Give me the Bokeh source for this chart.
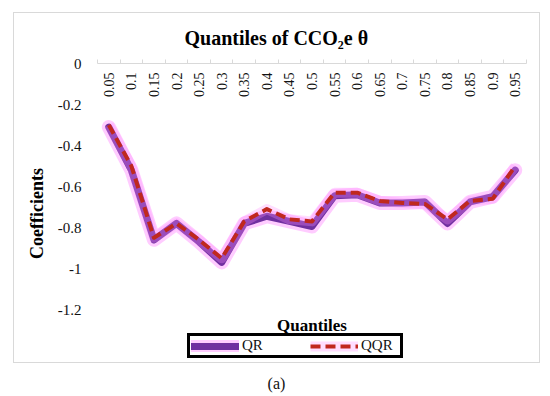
from math import pi
from bokeh.plotting import figure
from bokeh.models import (LinearAxis, FixedTicker, Legend, LegendItem, Range1d,
                          Div, ColumnDataSource, Label, CustomJSTickFormatter)
from bokeh.layouts import column
from bokeh.embed import file_html
from bokeh.resources import INLINE
from bokeh.core.properties import value

# ---- data ----
quantiles = ["0.05", "0.1", "0.15", "0.2", "0.25", "0.3", "0.35", "0.4", "0.45", "0.5",
             "0.55", "0.6", "0.65", "0.7", "0.75", "0.8", "0.85", "0.9", "0.95"]
qr = [-0.31, -0.52, -0.86, -0.78, -0.87, -0.97, -0.78, -0.745, -0.77, -0.795,
      -0.645, -0.64, -0.68, -0.68, -0.675, -0.78, -0.675, -0.65, -0.52]
qqr = [-0.30, -0.50, -0.85, -0.78, -0.86, -0.95, -0.77, -0.71, -0.76, -0.77,
       -0.63, -0.63, -0.67, -0.68, -0.685, -0.76, -0.67, -0.66, -0.50]
y_ticks = [0, -0.2, -0.4, -0.6, -0.8, -1.0, -1.2]
y_tick_labels = ["0", "-0.2", "-0.4", "-0.6", "-0.8", "-1", "-1.2"]

SERIF = "Liberation Serif"
n = len(quantiles)
xs = list(range(1, n + 1))
src = ColumnDataSource(dict(x=xs, q=quantiles, qr=qr, qqr=qqr, y0=[0] * n))

# frame extends below -1.2 to hold the x title and legend
p = figure(width=527, height=351, output_backend="svg", toolbar_location=None,
           x_range=Range1d(0.5, n + 0.5), y_range=Range1d(-1.463, 0),
           x_axis_location=None, y_axis_location="left",
           min_border_left=83, min_border_right=15, min_border_top=50, min_border_bottom=1)
p.margin = (12, 0, 0, 13)
p.styles = {"border": "1px solid #D9D9D9"}
p.xgrid.visible = False
p.ygrid.visible = False
p.outline_line_color = None
p.background_fill_color = "white"
p.border_fill_color = "white"

# title
p.title.text = "Quantiles of CCO\u2082e \u03b8"
p.title.align = "left"
p.title.offset = 87
p.title.standoff = 21
p.title.text_font = SERIF
p.title.text_font_size = "20px"
p.title.text_font_style = "bold"
p.title.text_color = "#000000"

# y axis
ya = p.yaxis[0]
ya.ticker = FixedTicker(ticks=y_ticks)
ya.major_label_overrides = dict(zip(y_ticks, y_tick_labels))
ya.axis_line_color = None
ya.major_tick_line_color = None
ya.minor_tick_line_color = None
ya.major_label_standoff = 10
ya.major_label_text_font = SERIF
ya.major_label_text_font_size = "15px"
ya.major_label_text_color = "#111111"
ya.axis_label = "Coefficients"
ya.axis_label_text_font = SERIF
ya.axis_label_text_font_style = "bold"
ya.axis_label_text_font_size = "18px"
ya.axis_label_text_color = "#000000"
ya.axis_label_standoff = 8

# top category axis (line + ticks between categories)
top = LinearAxis(ticker=FixedTicker(ticks=[i + 0.5 for i in range(n + 1)]),
                 formatter=CustomJSTickFormatter(code="return ''"),
                 axis_line_color="#D9D9D9", major_tick_line_color="#D9D9D9",
                 major_tick_out=4, major_tick_in=0, minor_tick_line_color=None,
                 major_label_standoff=0)
p.add_layout(top, "above")

# category labels under the axis line at y = 0
p.text(x="x", y="y0", text="q", source=src, angle=pi / 2, text_align="right",
       text_baseline="middle", y_offset=9, text_font=value(SERIF),
       text_font_size="14px", text_color="#111111")

# x title
p.add_layout(Label(x=(n + 1) / 2, y=-1.278, text="Quantiles", text_align="center",
                   text_baseline="middle", text_font=SERIF, text_font_style="bold",
                   text_font_size="17px", text_color="#000000"))

# lines with glow
g1 = p.line("x", "qr", source=src, line_color="#FF80FF", line_alpha=0.4, line_width=14,
            line_join="round", line_cap="round")
r1 = p.line("x", "qr", source=src, line_color="#7030A0", line_width=7,
            line_join="round", line_cap="round")
g2 = p.line("x", "qqr", source=src, line_color="#FF90FF", line_alpha=0.3, line_width=10,
            line_join="round")
r2 = p.line("x", "qqr", source=src, line_color="#C0281E", line_width=4,
            line_dash="10 5", line_join="round")

legend = Legend(items=[LegendItem(label="QR", renderers=[g1, r1]),
                       LegendItem(label="QQR", renderers=[g2, r2])],
                orientation="horizontal", location=(90, 5),
                border_line_color="black", border_line_width=3, border_line_alpha=1.0,
                padding=1, spacing=30, margin=0,
                glyph_width=48, glyph_height=12, label_standoff=3,
                label_height=12, label_width=38,
                label_text_font=SERIF, label_text_font_size="15px",
                label_text_color="#111111")
p.add_layout(legend)

cap = Div(text='<div style="width:527px;text-align:center;font-family:\'Liberation Serif\';'
               'font-size:16px;color:#111;">(a)</div>', width=527, height=22)
cap.margin = (10, 0, 0, 13)

layout = column(p, cap)
open("out.html", "w").write(file_html(layout, INLINE))
